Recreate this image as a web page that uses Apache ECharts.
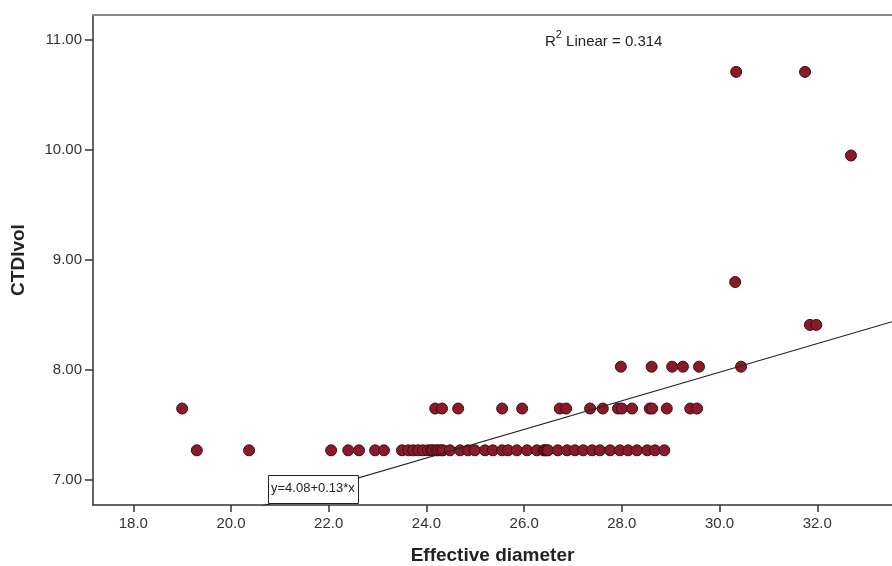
<!DOCTYPE html>
<html>
<head>
<meta charset="utf-8">
<script src="https://cdn.jsdelivr.net/npm/echarts@6/dist/echarts.min.js"></script>
<style>html,body{margin:0;padding:0;background:#fff}#c{width:892px;height:566px}</style>
</head>
<body>
<div id="c"></div>
<script>
// ---- data ----
const xTicks = [18, 20, 22, 24, 26, 28, 30, 32];
const yTicks = [7, 8, 9, 10, 11];
const row727 = [19.30, 20.37, 22.05, 22.40, 22.62, 22.95, 23.13, 23.50, 23.63, 23.73, 23.83, 23.93, 24.03, 24.10, 24.13, 24.20, 24.24, 24.30, 24.34, 24.48, 24.69, 24.85, 24.99, 25.20, 25.36, 25.55, 25.67, 25.85, 26.06, 26.26, 26.40, 26.43, 26.46, 26.49, 26.69, 26.88, 27.04, 27.21, 27.39, 27.55, 27.76, 27.96, 28.13, 28.31, 28.52, 28.68, 28.87];
const row765 = [19.00, 24.18, 24.32, 24.65, 25.55, 25.96, 26.73, 26.86, 27.35, 27.61, 27.92, 28.00, 28.21, 28.57, 28.62, 28.92, 29.40, 29.54];
const row803 = [27.98, 28.61, 29.03, 29.25, 29.58, 30.44];
const row841 = [31.85, 31.98];
const row880 = [30.32];
const row995 = [32.69];
const row1071 = [30.34, 31.75];
const rowLevels = [7.27, 7.65, 8.03, 8.41, 8.80, 9.95, 10.71];
const rows = [row727, row765, row803, row841, row880, row995, row1071];
const fitIntercept = 4.08;
const fitSlope = 0.13;
const r2 = 0.314;

const xMin = 17.175, xMax = 33.53, yMin = 6.773, yMax = 11.227;

const points = [];
rows.forEach((r, i) => r.forEach(x => points.push([x, rowLevels[i]])));
const fitLine = [[xMin, fitIntercept + fitSlope * xMin], [xMax, fitIntercept + fitSlope * xMax]];

const font = 'Liberation Sans, Arial, sans-serif';
const chart = echarts.init(document.getElementById('c'));
chart.setOption({
  animation: false,
  backgroundColor: '#fff',
  grid: { left: 93, top: 15, right: 0, bottom: 61, containLabel: false, outerBoundsMode: 'none' },
  xAxis: [{
    type: 'value', min: xMin, max: xMax,
    name: 'Effective diameter', nameLocation: 'middle', nameGap: 41,
    nameTextStyle: { fontFamily: font, fontSize: 19, fontWeight: 'bold', color: '#222' },
    axisLine: { show: true, lineStyle: { color: '#333', width: 1.5 } },
    axisTick: { show: true, length: 7, lineStyle: { color: '#333', width: 1.5 }, customValues: xTicks },
    axisLabel: { margin: 11, fontFamily: font, fontSize: 15, color: '#333', customValues: xTicks, formatter: v => v.toFixed(1) },
    splitLine: { show: false }
  }, {
    type: 'value', min: xMin, max: xMax, position: 'top',
    axisLine: { show: true, lineStyle: { color: '#888', width: 2 } },
    axisTick: { show: false }, axisLabel: { show: false }, splitLine: { show: false }
  }],
  yAxis: {
    type: 'value', min: yMin, max: yMax,
    name: 'CTDIvol', nameLocation: 'middle', nameGap: 65,
    nameTextStyle: { fontFamily: font, fontSize: 19, fontWeight: 'bold', color: '#222' },
    axisLine: { show: true, lineStyle: { color: '#333', width: 1.5 } },
    axisTick: { show: true, length: 8, lineStyle: { color: '#333', width: 1.5 }, customValues: yTicks },
    axisLabel: { margin: 11, fontFamily: font, fontSize: 15, color: '#333', customValues: yTicks, formatter: v => v.toFixed(2) },
    splitLine: { show: false }
  },
  series: [{
    type: 'line', data: fitLine, symbol: 'none', silent: true, z: 3,
    lineStyle: { color: '#222', width: 1.2 }
  }, {
    type: 'scatter', data: points, symbol: 'circle', symbolSize: 11, z: 2,
    itemStyle: { color: '#8a1a2a', borderColor: '#3a0e14', borderWidth: 1, opacity: 1 }
  }],
  graphic: [{
    type: 'text', left: 545, top: 29, z: 10,
    style: {
      text: '{a|R}{s|2}{a| Linear = ' + r2.toFixed(3) + '}',
      rich: {
        a: { fontFamily: font, fontSize: 15, fill: '#222', verticalAlign: 'bottom', lineHeight: 20 },
        s: { fontFamily: font, fontSize: 11, fill: '#222', verticalAlign: 'top', lineHeight: 20, padding: [0, 0, 8, 0] }
      }
    }
  }, {
    type: 'rect', shape: { x: 268.5, y: 475.5, width: 90, height: 28 }, z: 10,
    style: { fill: '#fff', stroke: '#222', lineWidth: 1 }
  }, {
    type: 'text', left: 271, top: 482, z: 11,
    style: { text: 'y=' + fitIntercept.toFixed(2) + '+' + fitSlope.toFixed(2) + '*x', fontFamily: font, fontSize: 13, fill: '#222' }
  }]
});
</script>
</body>
</html>
